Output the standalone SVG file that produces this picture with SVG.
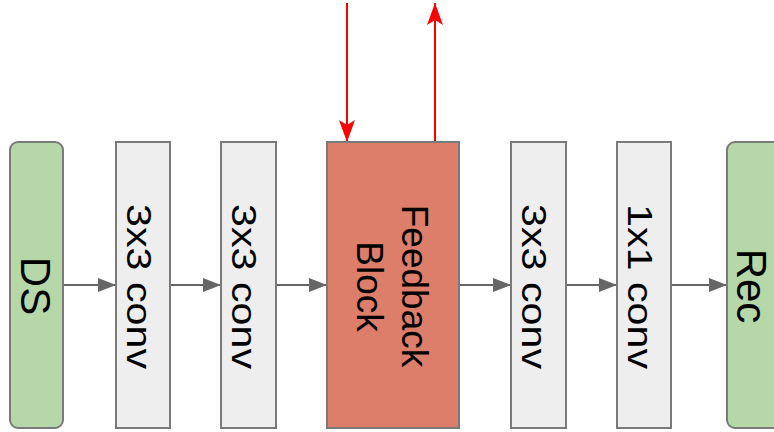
<svg xmlns="http://www.w3.org/2000/svg" width="774" height="432" viewBox="0 0 774 432">
<style>
.box{stroke:#7a7a7a;stroke-width:2}
.io{fill:#b6d7a8}
.conv{fill:#eeeeee}
.fb{fill:#dd7e6b}
.t{font-family:"Liberation Sans",Arial,sans-serif;fill:#000;text-anchor:middle}
.c{stroke:#666;stroke-width:2;fill:none}
.r{stroke:#ff0000;stroke-width:2;fill:none}
</style>
<defs>
<marker id="ag" markerUnits="userSpaceOnUse" markerWidth="20" markerHeight="16" refX="18" refY="7" orient="auto">
<path d="M0,0 L18,7 L0,14 z" fill="#666"/>
</marker>
<marker id="ar" markerUnits="userSpaceOnUse" markerWidth="24" markerHeight="18" refX="22" refY="8" orient="auto">
<path d="M0,0 L22,8 L0,16 L5,8 z" fill="#ff0000"/>
</marker>
</defs>
<g id="connectors">
<line class="c" x1="63" y1="285" x2="116" y2="285" marker-end="url(#ag)"/>
<line class="c" x1="170" y1="285" x2="221" y2="285" marker-end="url(#ag)"/>
<line class="c" x1="276" y1="285" x2="327" y2="285" marker-end="url(#ag)"/>
<line class="c" x1="459" y1="285" x2="511" y2="285" marker-end="url(#ag)"/>
<line class="c" x1="566" y1="285" x2="617" y2="285" marker-end="url(#ag)"/>
<line class="c" x1="671" y1="285" x2="727" y2="285" marker-end="url(#ag)"/>
<line class="r" x1="347" y1="3" x2="347" y2="142" marker-end="url(#ar)"/>
<line class="r" x1="435" y1="142" x2="435" y2="3" marker-end="url(#ar)"/>
</g>
<g id="ds">
<rect class="box io" x="10" y="142" width="53" height="286" rx="8"/>
<text class="t" font-size="42" transform="translate(20.5,286) rotate(90)">DS</text>
</g>
<g id="conv1">
<rect class="box conv" x="116" y="142" width="54" height="286"/>
<text class="t" font-size="35" textLength="165" lengthAdjust="spacingAndGlyphs" transform="translate(126.7,286.5) rotate(90)">3x3 conv</text>
</g>
<g id="conv2">
<rect class="box conv" x="221" y="142" width="55" height="286"/>
<text class="t" font-size="35" textLength="165" lengthAdjust="spacingAndGlyphs" transform="translate(231.7,286.5) rotate(90)">3x3 conv</text>
</g>
<g id="feedback">
<rect class="box fb" x="327" y="142" width="132" height="286"/>
<text class="t" font-size="37" transform="translate(402,286) rotate(90)">Feedback</text>
<text class="t" font-size="37" transform="translate(357,286.5) rotate(90)">Block</text>
</g>
<g id="conv3">
<rect class="box conv" x="511" y="142" width="55" height="286"/>
<text class="t" font-size="35" textLength="165" lengthAdjust="spacingAndGlyphs" transform="translate(521.7,286.5) rotate(90)">3x3 conv</text>
</g>
<g id="conv4">
<rect class="box conv" x="617" y="142" width="54" height="286"/>
<text class="t" font-size="35" textLength="165" lengthAdjust="spacingAndGlyphs" transform="translate(627.7,286.5) rotate(90)">1x1 conv</text>
</g>
<g id="rec">
<rect class="box io" x="727" y="142" width="60" height="286" rx="8"/>
<text class="t" font-size="42" transform="translate(737,286) rotate(90)">Rec</text>
</g>
</svg>
